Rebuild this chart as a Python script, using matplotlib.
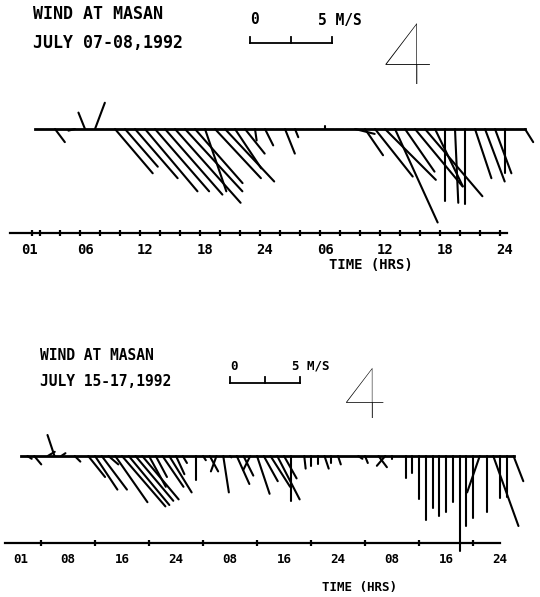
import numpy as np
import matplotlib.pyplot as plt
from matplotlib.collections import LineCollection

plt.rcParams['font.family'] = ['DejaVu Sans Mono']
plt.rcParams['font.weight'] = 'bold'

W, H = 540, 597

# --- July 07-08, 1992: hourly wind components (m/s), u = east, v = north
hours1 = np.arange(1, 51)
u1 = [0, 0, 0.6, 0, -0.4, -0.4, 0.6, 0, 2.3, 2.0,
      2.6, 3.2, 3.3, 3.5, 4.0, 3.5, 2.9, 1.3, 2.8, 3.0,
      1.6, 1.2, 0.1, 0.5, 0, 0.6, 0.2, 0, 0, 0,
      0, 0, 1.2, 1.1, 2.3, 3.1, 2.6, 1.8, 2.9, 3.5,
      1.7, 0, 0.2, 0, 1.0, 1.2, 1.0, 0, 0, 0.5]
v1 = [0, 0, -0.8, 0, -0.1, 1.0, 1.6, 0, -2.7, -2.3,
      -3.0, -3.8, -3.8, -4.0, -4.5, -3.8, -3.3, -3.8, -3.0, -3.2,
      -2.4, -1.5, -0.7, -1.0, 0, -1.5, -0.5, 0, 0, 0.2,
      0, 0, -0.3, -1.6, -2.9, -3.1, -5.7, -2.6, -3.5, -4.1,
      -3.5, -4.4, -4.5, -4.6, -3.0, -3.2, -2.7, -2.7, 0, -0.8]
ticks1 = [0.7] + list(np.arange(1.5, 48, 2))
labelpos1 = [0.4, 6, 12, 18, 24, 30, 36, 42, 48]
labels1 = ['01', '06', '12', '18', '24', '06', '12', '18', '24']

# --- July 15-17, 1992
hours2 = np.arange(1, 75)
u2 = [0, 0.3, 0.5, 0, 0.5, -0.5, 0.3, 0, 0.4, 0,
      1.2, 1.6, 1.8, 0.7, 2.3, 3.1, 2.9, 2.7, 2.6, 1.2,
      0.8, 1.5, 1.6, 0.6, 0.3, 0, 0, 0.2, 0.6, -0.4,
      0.4, 0.1, 0.9, 0.7, -0.5, 0.9, 1.0, 1.4, 1.6, 0.9,
      0, 0, 0.1, 0, 0, 0.3, 0, 0.2, 0, 0,
      0.3, 0.2, 0, 0.6, -0.6, 0, 0, 0, 0, 0,
      0, 0, 0, 0, 0, 0, 0, 0, -0.9, 0,
      1.8, 0, 0, 0.7]
v2 = [0, -0.2, -0.6, 0, 0.3, 1.5, 0.2, 0, -0.4, 0,
      -1.5, -2.4, -2.4, -0.6, -3.3, -3.6, -3.5, -3.2, -3.1, -2.2,
      -1.5, -2.2, -2.6, -1.3, -0.5, 0, -1.7, -0.3, -1.1, -1.1,
      -2.6, -0.1, -2.0, -1.4, -1.0, -2.7, -1.8, -2.2, -3.1, -1.6,
      -3.2, 0, -0.9, -0.7, -0.6, -0.9, -0.5, -0.6, 0, 0,
      -0.2, -0.5, 0, -0.8, -0.7, -0.2, 0, -1.6, -1.2, -3.1,
      -4.6, -3.7, -4.3, -4.0, -3.3, -6.8, -5.0, -4.4, -2.6, -4.0,
      -5.0, -3.0, -2.9, -1.8]
ticks2 = [1] + list(range(4, 73, 4))
labelpos2 = [1, 8, 16, 24, 32, 40, 48, 56, 64, 72]
labels2 = ['01', '08', '16', '24', '08', '16', '24', '08', '16', '24']

fig = plt.figure(figsize=(W / 100, H / 100), dpi=100)


def px(x, y):
    # figure pixel (from top-left) -> figure fraction
    return x / W, 1 - y / H


def panel(top, bot, x0, px_hr, y0, px_ms):
    ax = fig.add_axes([0, 1 - bot / H, 1, (bot - top) / H])
    ax.set_xlim(-x0 / px_hr, (W - x0) / px_hr)
    ax.set_ylim((y0 - bot) / px_ms, (y0 - top) / px_ms)
    ax.patch.set_visible(False)
    return ax, px_ms / px_hr


def draw(ax, k, hours, u, v, ticks, labelpos, labels, axis_v, bounds,
         bar, lblsize):
    hours = np.asarray(hours, float)
    u = np.asarray(u, float)
    v = np.asarray(v, float)
    segs = [[(t, 0), (t + uu * k, vv)] for t, uu, vv in zip(hours, u, v)]
    ax.add_collection(LineCollection(segs, colors='black', linewidths=1.5,
                                     capstyle='round'))
    ax.plot([hours[0], hours[-1]], [0, 0], color='black', lw=2)

    for s in ['top', 'right', 'left']:
        ax.spines[s].set_visible(False)
    ax.spines['bottom'].set_position(('data', axis_v))
    ax.spines['bottom'].set_bounds(*bounds)
    ax.spines['bottom'].set_linewidth(1.6)
    ax.set_yticks([])
    ax.set_xticks(labelpos)
    ax.set_xticklabels(labels, fontsize=lblsize, fontweight='bold')
    ax.set_xticks(ticks, minor=True)
    ax.tick_params(axis='x', which='major', length=0, pad=7)
    ax.tick_params(axis='x', which='minor', direction='inout', length=5,
                   width=1.6)

    # 5 m/s scale bar
    bx, by, up = bar
    ax.plot([bx, bx + 5 * k], [by, by], color='black', lw=1.3)
    for m in [0, 2.5, 5]:
        ax.plot([bx + m * k] * 2, [by, by + up], color='black', lw=1.3)


ax1, k1 = panel(0, 300, 25, 10, 129, 16.4)
draw(ax1, k1, hours1, u1, v1, ticks1, labelpos1, labels1, -6.34,
     (-1.5, 48.2), (22.5, 5.24, 0.37), 10)

ax2, k2 = panel(300, 597, 14, 6.75, 456, 14)
draw(ax2, k2, hours2, u2, v2, ticks2, labelpos2, labels2, -6.2,
     (-1.3, 72), (32, 5.2, 0.43), 9)

# texts of the upper panel
fig.text(*px(33, 14), 'WIND AT MASAN', fontsize=12, va='center')
fig.text(*px(33, 42.5), 'JULY 07-08,1992', fontsize=12, va='center')
fig.text(*px(250, 20), '0', fontsize=10.5, va='center')
fig.text(*px(318, 20), '5 M/S', fontsize=10.5, va='center')
fig.text(*px(408, 61), '4', fontsize=62, family='Lato', fontweight=100,
         ha='center', va='center')
fig.text(*px(371, 265), 'TIME (HRS)', fontsize=10, ha='center', va='center')

# texts of the lower panel
fig.text(*px(40, 355), 'WIND AT MASAN', fontsize=10.5, va='center')
fig.text(*px(40, 382), 'JULY 15-17,1992', fontsize=10.5, va='center')
fig.text(*px(230, 366), '0', fontsize=9, va='center')
fig.text(*px(292, 366), '5 M/S', fontsize=9, va='center')
fig.text(*px(365, 398), '4', fontsize=52, family='Lato', fontweight=100,
         ha='center', va='center')
fig.text(*px(359, 588), 'TIME (HRS)', fontsize=9, ha='center', va='center')

fig.savefig('out.png', dpi=100)
